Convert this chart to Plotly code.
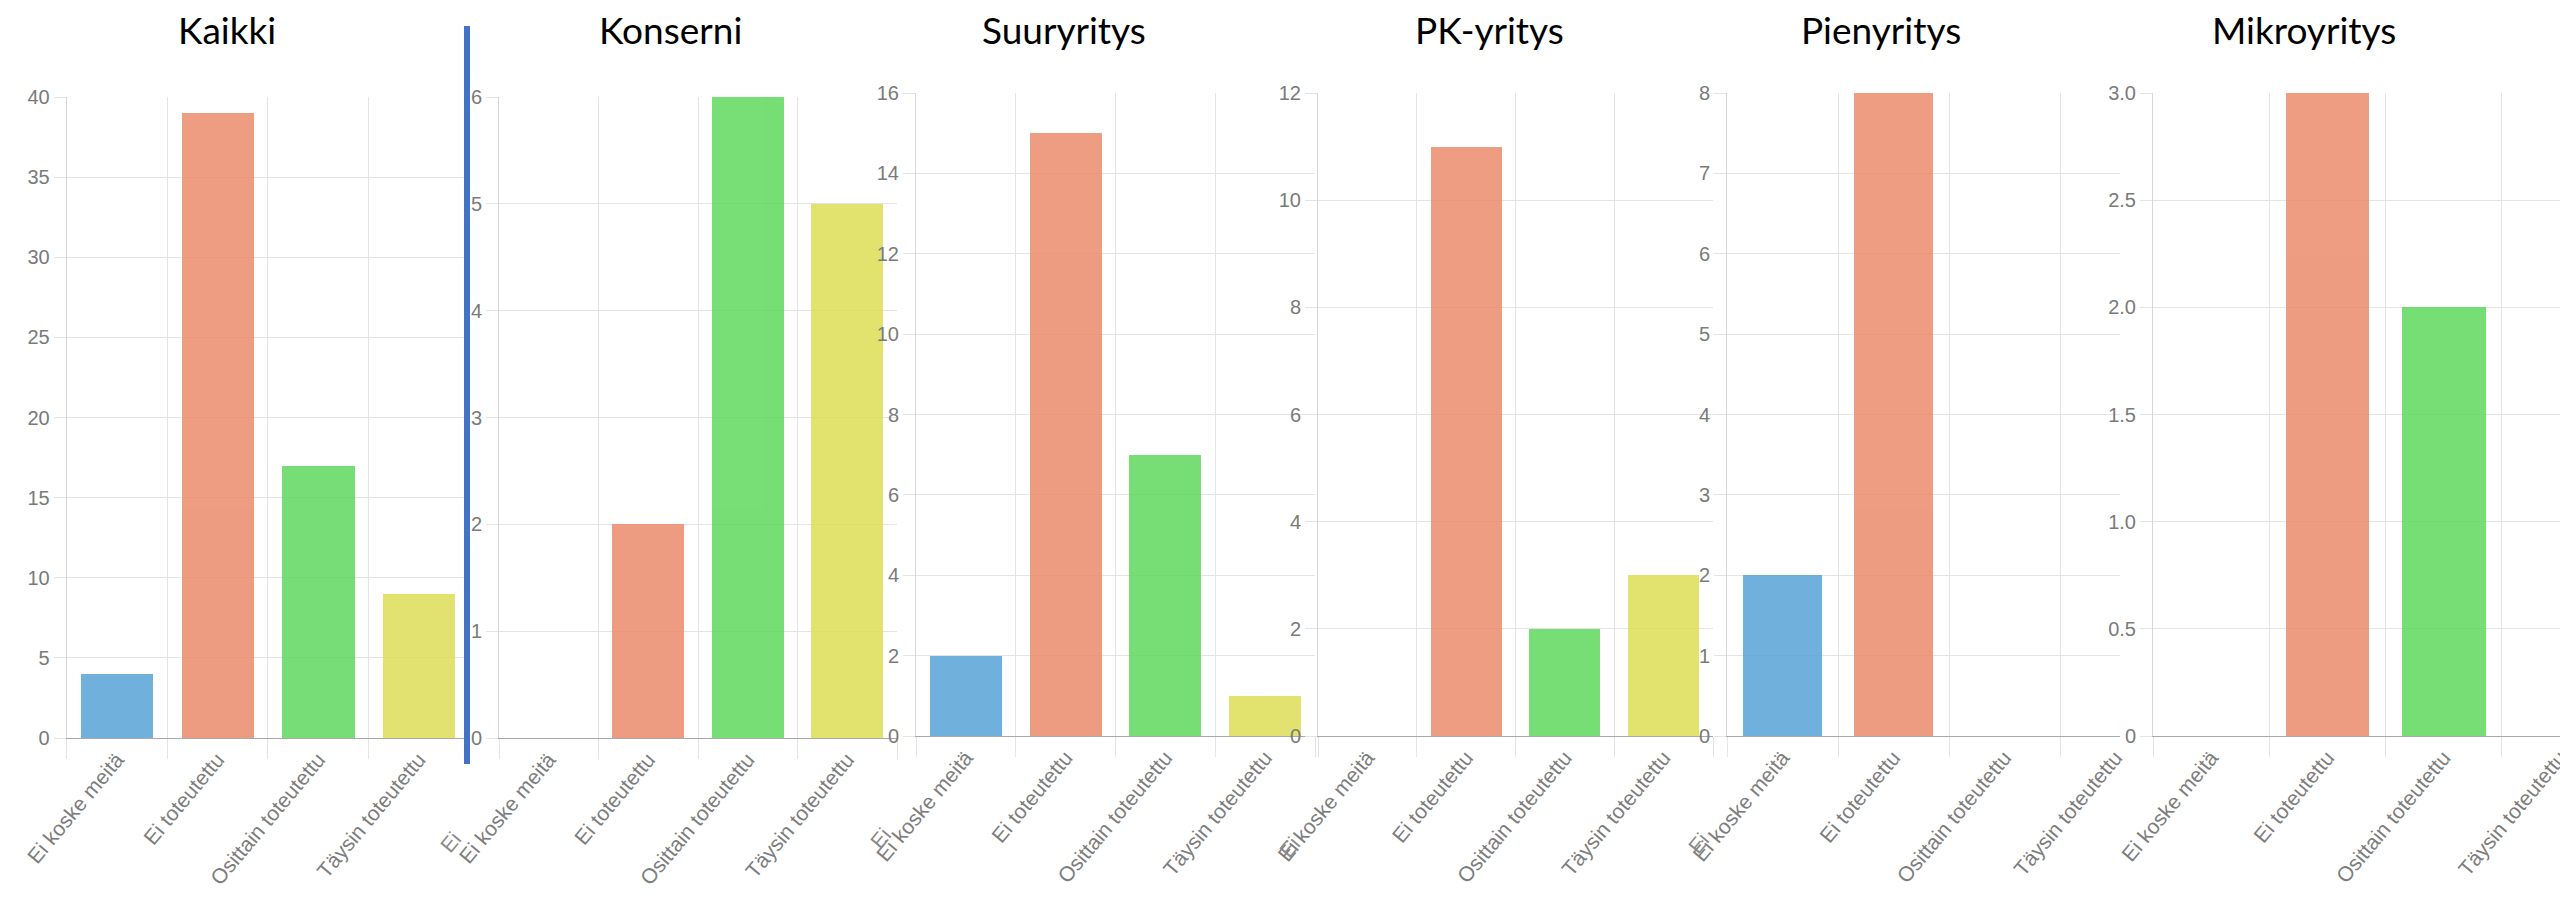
import plotly.graph_objects as go

# ---------------- data ----------------
categories = ["Ei koske meitä", "Ei toteutettu", "Osittain toteutettu", "Täysin toteutettu"]
panel_titles = ["Kaikki", "Konserni", "Suuryritys", "PK-yritys", "Pienyritys", "Mikroyritys"]

kaikki = [4, 39, 17, 9]
konserni = [0, 2, 6, 5]
suuryritys = [2, 15, 7, 1]
pk_yritys = [0, 11, 2, 3]
pienyritys = [2, 8, 0, 0]
mikroyritys = [0, 3, 2, 0]

ticks_kaikki = [0, 5, 10, 15, 20, 25, 30, 35, 40]
ticks_konserni = [0, 1, 2, 3, 4, 5, 6]
ticks_suuryritys = [0, 2, 4, 6, 8, 10, 12, 14, 16]
ticks_pk = [0, 2, 4, 6, 8, 10, 12]
ticks_pien = [0, 1, 2, 3, 4, 5, 6, 7, 8]
ticks_mikro = [0, 0.5, 1.0, 1.5, 2.0, 2.5, 3.0]
ticktext_mikro = ["0", "0.5", "1.0", "1.5", "2.0", "2.5", "3.0"]

# stray clipped label fragments visible at the left edge of some screenshots
stray_texts = ["Ei", "Ei", "Ei", "Ei"]

# ---------------- style / geometry ----------------
W, H = 2560, 909
bar_colors = ["rgb(86,163,214)", "rgb(235,139,108)", "rgb(96,216,94)", "rgb(221,221,87)"]
grid_c = "#e4e4e4"
tick_font = dict(family="Liberation Sans", size=20, color="#7a7a7a")
xlab_font = dict(family="Liberation Sans", size=21, color="#7d7d7d")

series = [kaikki, konserni, suuryritys, pk_yritys, pienyritys, mikroyritys]
yticks = [ticks_kaikki, ticks_konserni, ticks_suuryritys, ticks_pk, ticks_pien, ticks_mikro]
yticktext = [[str(v) for v in t] for t in yticks[:5]] + [ticktext_mikro]

# panel pixel geometry: x_left, x_right, top, zero, x-range end
panels = [
    (66.7, 469, 97, 738, 3.5),
    (499, 897, 97, 738, 3.5),
    (916, 1315, 93, 736, 3.5),
    (1318, 1713, 93, 736, 3.5),
    (1727, 2120, 93, 736, 3.04),
    (2153, 2560, 93, 736, 3.0),
]
title_x = [227, 670, 1064, 1489, 1881, 2304]
stray_pos = [(450, 842), (880, 838), (1289, 847), (1698, 843)]

fig = go.Figure()
layout = dict(
    width=W, height=H,
    margin=dict(l=0, r=0, t=0, b=0, pad=0, autoexpand=False),
    paper_bgcolor="white", plot_bgcolor="white",
    showlegend=False,
    bargap=0,
)

for i, (vals, (x0, x1, top, zero, rend)) in enumerate(zip(series, panels)):
    n = i + 1
    xa = "x" if n == 1 else f"x{n}"
    ya = "y" if n == 1 else f"y{n}"
    fig.add_trace(go.Bar(
        x=categories, y=vals, xaxis=xa, yaxis=ya,
        marker=dict(color=bar_colors, line=dict(width=0)),
        opacity=0.85, width=0.72, showlegend=False, hoverinfo="x+y",
    ))
    ymax = yticks[i][-1]
    layout["xaxis" if n == 1 else f"xaxis{n}"] = dict(
        domain=[x0 / W, x1 / W], anchor=ya, automargin=False,
        type="category", categoryorder="array", categoryarray=categories,
        range=[-0.5, rend], tickson="boundaries",
        showgrid=True, gridcolor=grid_c, gridwidth=1,
        ticks="outside", ticklen=20, tickcolor=grid_c,
        tickangle=-50, tickfont=xlab_font,
        showline=True, linecolor="#a9a9a9", linewidth=1,
        zeroline=False, fixedrange=True,
    )
    layout["yaxis" if n == 1 else f"yaxis{n}"] = dict(
        domain=[1 - zero / H, 1 - top / H], anchor=xa, automargin=False,
        range=[0, ymax], tickmode="array", tickvals=yticks[i], ticktext=yticktext[i],
        showgrid=True, gridcolor=grid_c, gridwidth=1,
        ticks="outside", ticklen=12, tickcolor=grid_c,
        tickfont=tick_font,
        showline=True, linecolor="#d6d6d6", linewidth=1,
        zeroline=False, fixedrange=True,
    )

annotations = []
for t, cx in zip(panel_titles, title_x):
    annotations.append(dict(
        xref="paper", yref="paper", x=cx / W, y=1 - 30 / H,
        xanchor="center", yanchor="middle", showarrow=False,
        text=t,
        font=dict(family="Lato", size=37, color="black"),
    ))
for t, (sx, sy) in zip(stray_texts, stray_pos):
    annotations.append(dict(
        xref="paper", yref="paper", x=sx / W, y=1 - sy / H,
        xanchor="center", yanchor="middle", showarrow=False,
        text=t, textangle=-50,
        font=dict(family="Liberation Sans", size=21, color="#8a8a8a"),
    ))
layout["annotations"] = annotations

layout["shapes"] = [dict(
    type="line", xref="paper", yref="paper",
    x0=467 / W, x1=467 / W, y0=1 - 26 / H, y1=1 - 764 / H,
    line=dict(color="#4472C4", width=6),
)]

fig.update_layout(**layout)
fig.write_html("out.html")
